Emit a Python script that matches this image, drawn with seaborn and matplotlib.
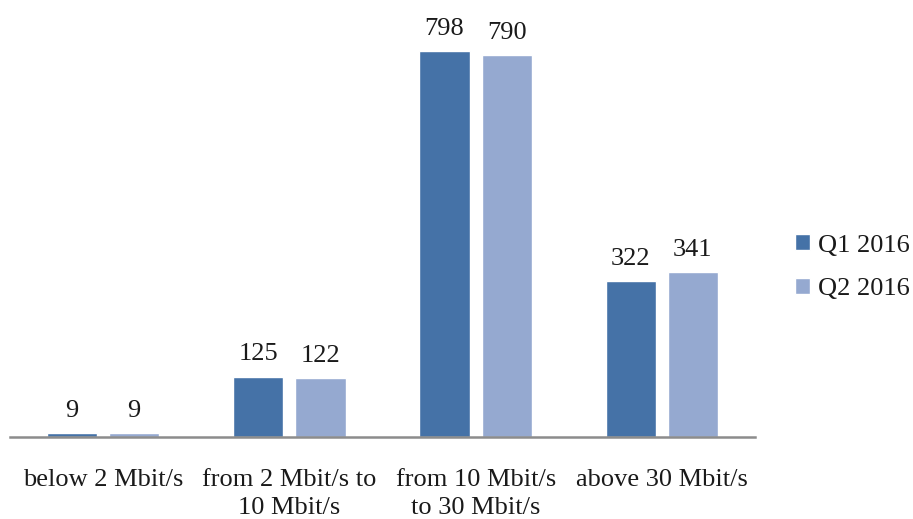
import matplotlib
matplotlib.use("Agg")
import matplotlib.pyplot as plt
import seaborn as sns
import pandas as pd

categories = ["below 2 Mbit/s", "from 2 Mbit/s to\n10 Mbit/s", "from 10 Mbit/s\nto 30 Mbit/s", "above 30 Mbit/s"]
series = ["Q1 2016", "Q2 2016"]
q1_values = [9, 125, 798, 322]
q2_values = [9, 122, 790, 341]
colors = ["#4572A7", "#95A9D0"]

df = pd.DataFrame({
    "category": categories * 2,
    "series": [series[0]] * 4 + [series[1]] * 4,
    "value": q1_values + q2_values,
})

sns.set_theme(style="white")
plt.rcParams["font.family"] = ["Liberation Serif", "DejaVu Serif"]

FS = 19
fig = plt.figure(figsize=(9.13, 5.19), dpi=100)
W, H = 913, 519
ymax = 850
scale = 386 / 798
top_px = 437 - ymax * scale
ax = fig.add_axes([10 / W, (H - 437) / H, 745 / W, (437 - top_px) / H])

sns.barplot(data=df, x="category", y="value", hue="series", palette=colors,
            width=0.667, gap=0.19, ax=ax, saturation=1, order=categories, hue_order=series)

ax.set_ylim(0, ymax)
ax.set_xlim(-0.5, 3.5)
for c in ax.containers:
    ax.bar_label(c, padding=8, fontsize=FS, color="#1a1a1a")

ax.set_xlabel("")
ax.set_ylabel("")
ax.set_yticks([])
for s in ["top", "left", "right"]:
    ax.spines[s].set_visible(False)
ax.spines["bottom"].set_color("#8c8c8c")
ax.spines["bottom"].set_linewidth(1.8)
ax.tick_params(axis="x", length=0, pad=23, labelsize=FS, colors="#1a1a1a")
for t in ax.get_xticklabels():
    t.set_linespacing(1.36)

leg = ax.legend(loc="center left", bbox_to_anchor=(1.054, 0.413), frameon=False,
                fontsize=FS, handlelength=0.55, handleheight=0.55, handletextpad=0.3,
                labelspacing=0.8, borderpad=0, borderaxespad=0)
for t in leg.get_texts():
    t.set_color("#1a1a1a")

fig.savefig("out.png", dpi=100)
